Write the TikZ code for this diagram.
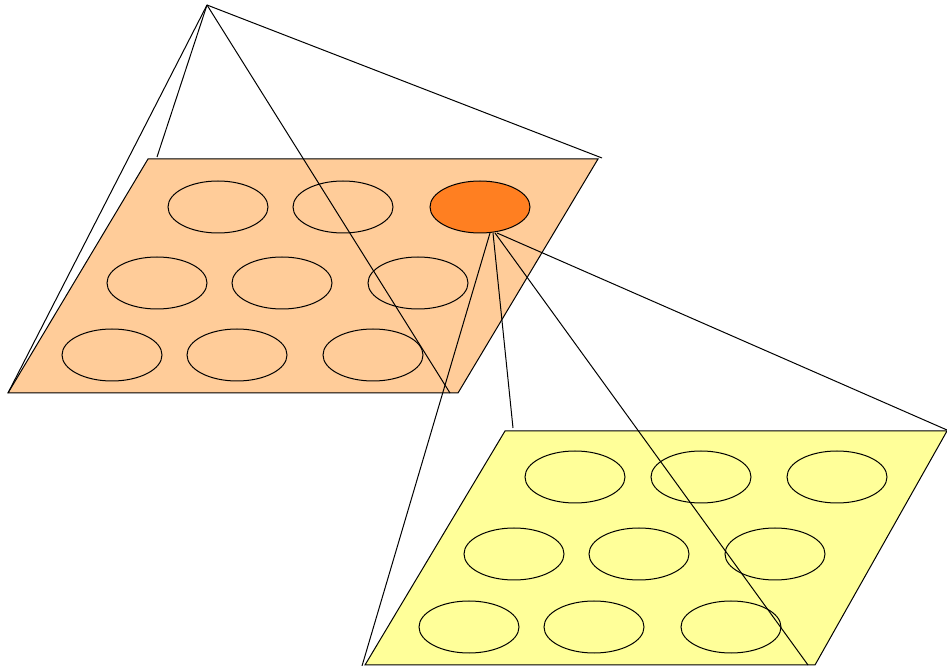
\documentclass[tikz,border=0pt]{standalone}
\usepackage{xcolor}
\usepackage{tikz}
\definecolor{peach}{HTML}{FFCC99}
\definecolor{hotorange}{HTML}{FF7F21}
\definecolor{paleyellow}{HTML}{FFFF99}

\begin{document}
\begin{tikzpicture}[
  x=0.75pt, y=-0.75pt,
  plane/.style = {draw=black, line width=0.75pt},
  cell/.style  = {draw=black, line width=0.75pt},
  ray/.style   = {draw=black, line width=0.75pt}
]
\useasboundingbox (0,0) rectangle (947,666);

% upper layer
\coordinate (apex) at (207,5);
\coordinate (uTL) at (148,159);
\coordinate (uTR) at (598,159);
\coordinate (uBR) at (458,393);
\coordinate (uBL) at (8,393);
\filldraw[plane, fill=peach] (uTL) -- (uTR) -- (uBR) -- (uBL) -- cycle;

\foreach \cx/\cy in {218/207, 343/207,
                     157/283, 282/283, 418/283,
                     112/355, 237/355, 373/355}
  \draw[cell] (\cx,\cy) ellipse [x radius=37.5pt, y radius=19.5pt];
\filldraw[cell, fill=hotorange] (480,207) ellipse [x radius=37.5pt, y radius=19.5pt];
\coordinate (hot) at (493,233);

% lower layer
\coordinate (lTL) at (505,431);
\coordinate (lTR) at (947,431);
\coordinate (lBR) at (815,665);
\coordinate (lBL) at (365,665);
\filldraw[plane, fill=paleyellow] (lTL) -- (lTR) -- (lBR) -- (lBL) -- cycle;

\foreach \cx/\cy in {575/477, 701/477, 837/477,
                     514/554, 639/554, 775/554,
                     469/627, 594/627, 731/627}
  \draw[cell, fill=paleyellow] (\cx,\cy) ellipse [x radius=37.5pt, y radius=19.5pt];

% rays from the apex
\coordinate (a1) at (157,157);
\coordinate (a2) at (450,393);
\coordinate (a3) at (602,158);
\draw[ray] (apex) -- (uBL);
\draw[ray] (apex) -- (a1);
\draw[ray] (apex) -- (a2);
\draw[ray] (apex) -- (a3);

% rays from the hot cell
\coordinate (b1) at (362,666);
\coordinate (b2) at (513,428);
\coordinate (b3) at (808,665);
\coordinate (b4) at (947,430);
\draw[ray] ([xshift=-2.25pt]hot) -- (b1);
\draw[ray] (hot) -- (b2);
\draw[ray] ([xshift=1.5pt]hot) -- (b3);
\draw[ray] ([xshift=3pt]hot) -- (b4);

\end{tikzpicture}
\end{document}
